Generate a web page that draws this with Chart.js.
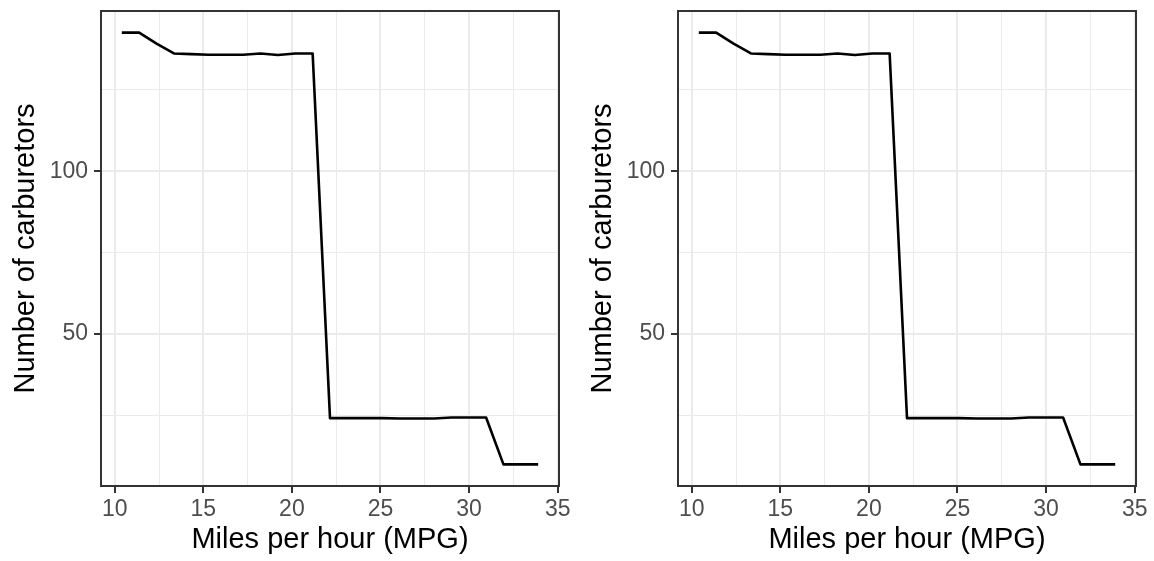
<!DOCTYPE html>
<html>
<head>
<meta charset="utf-8">
<script src="https://cdn.jsdelivr.net/npm/chart.js@4.4.1/dist/chart.umd.min.js"></script>
<style>
    html, body { margin: 0; padding: 0; background: #fff; }
    .row { display: flex; width: 1154px; height: 561px; }
    .panel { position: relative; width: 577px; height: 561px; }
</style>
</head>
<body>
<div class="row">
    <div class="panel"><canvas id="left"></canvas></div>
    <div class="panel"><canvas id="right"></canvas></div>
</div>
<script>

const mpg = [ 10.40, 11.38, 12.36, 13.34, 14.32, 15.30, 16.28, 17.25, 18.23, 19.21, 20.19, 21.17,
    22.15, 23.13, 24.11, 25.09, 26.07, 27.05, 28.03, 29.01, 29.98, 30.96, 31.94, 32.92, 33.90 ];

const carbs = [ 142.6, 142.6, 139.2, 136.2, 136.0, 135.8, 135.8, 135.8, 136.2, 135.7, 136.2, 136.2,
    24.2, 24.2, 24.2, 24.2, 24.1, 24.1, 24.1, 24.4, 24.4, 24.4, 10.0, 10.0, 10.0 ];

const xMajor = [ 10, 15, 20, 25, 30, 35 ];
const xMinor = [ 12.5, 17.5, 22.5, 27.5, 32.5 ];
const yMajor = [ 50, 100 ];
const yMinor = [ 25, 75, 125 ];

const xTitle = 'Miles per hour (MPG)';
const yTitle = 'Number of carburetors';

// ggplot style 5% expansion
function expand ( arr ) {
    const lo = Math.min( ...arr ), hi = Math.max( ...arr );
    const pad = ( hi - lo ) * 0.05;
    return [ lo - pad, hi + pad ];
}

const panelBorder = {
    id: 'panelBorder',
    afterDraw ( chart ) {
        const { ctx, chartArea: a } = chart;
        ctx.save();
        ctx.strokeStyle = '#333333';
        ctx.lineWidth = 2;
        ctx.strokeRect( a.left, a.top, a.right - a.left, a.bottom - a.top );
        ctx.restore();
    }
};

function renderPanel ( ctx ) {

    const [ xMin, xMax ] = expand( mpg );
    const [ yMin, yMax ] = expand( carbs );

    const isMajorX = v => xMajor.includes( v );
    const isMajorY = v => yMajor.includes( v );

    new Chart( ctx, {
        type: 'line',
        data: {
            datasets: [ {
                data: mpg.map( ( x, i ) => ( { x, y: carbs[ i ] } ) ),
                borderColor: '#000',
                borderWidth: 2.6,
                borderJoinStyle: 'round',
                pointRadius: 0,
                tension: 0
            } ]
        },
        options: {
            plugins: { legend: { display: false }, tooltip: { enabled: false } },
            layout: { padding: { top: 11, right: 18, left: 0, bottom: 0 } },
            scales: {
                x: {
                    type: 'linear',
                    min: xMin, max: xMax,
                    afterBuildTicks: s => { s.ticks = [ ...xMajor, ...xMinor ].sort( ( a, b ) => a - b ).map( value => ( { value } ) ); },
                    afterFit: s => { s.height = 75; s.paddingLeft = 0; s.paddingRight = 0; },
                    ticks: {
                        autoSkip: false,
                        maxRotation: 0,
                        padding: 3,
                        color: '#4D4D4D',
                        font: { size: 23 },
                        callback: v => isMajorX( v ) ? String( v ) : ''
                    },
                    grid: {
                        color: '#EBEBEB',
                        lineWidth: c => isMajorX( c.tick.value ) ? 2 : 1,
                        tickLength: 7,
                        tickWidth: 2,
                        tickColor: c => isMajorX( c.tick.value ) ? '#333333' : 'rgba(0,0,0,0)'
                    },
                    border: { display: false },
                    title: {
                        display: true,
                        text: xTitle,
                        color: '#000',
                        font: { size: 29, lineHeight: 1.2 },
                        padding: { top: 0, bottom: 4 }
                    }
                },
                y: {
                    type: 'linear',
                    min: yMin, max: yMax,
                    afterBuildTicks: s => { s.ticks = [ ...yMajor, ...yMinor ].sort( ( a, b ) => a - b ).map( value => ( { value } ) ); },
                    afterFit: s => { s.width = 101; s.paddingTop = 0; s.paddingBottom = 0; },
                    ticks: {
                        autoSkip: false,
                        padding: 6,
                        color: '#4D4D4D',
                        font: { size: 23 },
                        callback: v => isMajorY( v ) ? String( v ) : ''
                    },
                    grid: {
                        color: '#EBEBEB',
                        lineWidth: c => isMajorY( c.tick.value ) ? 2 : 1,
                        tickLength: 7,
                        tickWidth: 2,
                        tickColor: c => isMajorY( c.tick.value ) ? '#333333' : 'rgba(0,0,0,0)'
                    },
                    border: { display: false },
                    title: {
                        display: true,
                        text: yTitle,
                        color: '#000',
                        font: { size: 29, lineHeight: 1.2 },
                        padding: { top: 9, bottom: 0 }
                    }
                }
            }
        },
        plugins: [ panelBorder ]
    } );

}

Chart.defaults.responsive = true;
Chart.defaults.maintainAspectRatio = false;
Chart.defaults.animation = false;
Chart.defaults.font.family = '"Liberation Sans", Arial, sans-serif';

renderPanel( document.getElementById( 'left' ) );
renderPanel( document.getElementById( 'right' ) );

</script>
</body>
</html>
